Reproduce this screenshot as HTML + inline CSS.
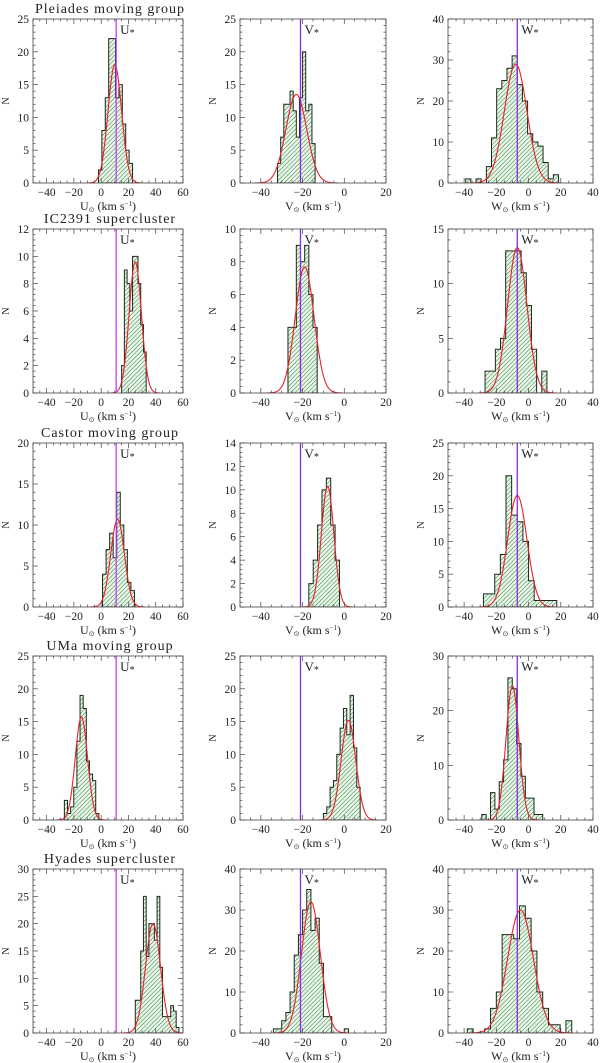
<!DOCTYPE html>
<html><head><meta charset="utf-8">
<style>
html,body{margin:0;padding:0;background:#fff;}
svg{display:block;}
text{font-family:"Liberation Serif",serif;fill:#222;}
</style></head>
<body>
<svg id="fig" width="600" height="1063" viewBox="0 0 600 1063" xmlns="http://www.w3.org/2000/svg">
<defs>
<pattern id="hatch" patternUnits="userSpaceOnUse" width="3" height="3" patternTransform="rotate(45)">
<rect width="3" height="3" fill="#eaf4ea"/>
<line x1="0" y1="0" x2="0" y2="3" stroke="#2a8536" stroke-width="1"/>
</pattern>
</defs>
</svg>
<script>
// ---- data ----
const groupNames = ["Pleiades moving group","IC2391 supercluster","Castor moving group","UMa moving group","Hyades supercluster"];
const components = ["U","V","W"];
const refValues = [11, -21, -7];
const yMaxes = [[25,25,40],[12,10,15],[20,14,25],[25,25,30],[30,40,40]];
const yTickSteps = [[5,5,10],[2,2,5],[5,2,5],[5,5,10],[5,10,10]];
const xTicksU = [-40,-20,0,20,40,60];
const xTicksV = [-40,-20,0,20];
const xTicksW = [-40,-20,0,20,40];
const xRanges = [[-50,60],[-50,20],[-50,40]];

const binStarts = [[-2,-32,-39],[15,-27,-27],[1,-17,-28],[-27,-10,-29],[25,-34,-38]];
const binWidths = [[2.5,1.5,3.2],[2,2,3.2],[2.6,2.1,3.5],[2.3,1.6,2.7],[2,2,3.6]];

const countsPleiadesU = [2,8,13,22,22,13,15,9,5,3];
const countsPleiadesV = [3,7,12,12,14,11,7,13,20,11,12,6];
const countsPleiadesW = [1,0,1,0,4,11,23,25,28,31,24,20,12,10,9,5,1,2];
const countsIC2391U = [2,9,8,6,10,10,8,5,3];
const countsIC2391V = [4,4,9,8,9,6,4];
const countsIC2391W = [2,2,4,5,13,13,13,11,8,4,0,2];
const countsCastorU = [4,7,9,6,14,10,7,3,2];
const countsCastorV = [2,4,7,10,11,7,4];
const countsCastorW = [2,2,5,8,20,14,13,10,4,1,1,1,1];
const countsUMaU = [3,1,2,5,12,19,17,9,7,6,1];
const countsUMaV = [1,2,5,6,10,14,17,13,19,11,5];
const countsUMaW = [1,0,5,2,7,11,26,24,14,8,4,4,1,1];
const countsHyadesU = [6,6,15,25,14,20,20,17,25,12,3,3,3,5,4,1,0];
const countsHyadesV = [1,1,3,5,10,19,24,30,35,25,28,17,4,4,0,0,0,1];
const countsHyadesW = [1,0,0,1,6,10,24,24,23,31,28,20,10,6,2,2,0,3];

// gaussian fit parameters: [mean, sigma, amplitude]
const fitPleiades = [[10,5,18],[-23,5,13.5],[-8,7,29]];
const fitIC2391 = [[25,4.5,9.6],[-19,4.5,7.7],[-7,6,13.3]];
const fitCastor = [[12,5,10.7],[-8,3,10.3],[-7,6,17]];
const fitUMa = [[-14.5,4.5,15.7],[2,3.5,15.2],[-10,4,24.5]];
const fitHyades = [[38,5.5,20],[-16,4.5,32],[-5,8,30]];

const allCounts = [[countsPleiadesU,countsPleiadesV,countsPleiadesW],[countsIC2391U,countsIC2391V,countsIC2391W],[countsCastorU,countsCastorV,countsCastorW],[countsUMaU,countsUMaV,countsUMaW],[countsHyadesU,countsHyadesV,countsHyadesW]];
const allFits = [fitPleiades,fitIC2391,fitCastor,fitUMa,fitHyades];
const allXTicks = [xTicksU,xTicksV,xTicksW];

// ---- layout ----
const colX0 = [33,240,448], colX1 = [183,386,593];
const rowTop = [19,229,443,656,869], panelH = 164;
const svg = document.getElementById('fig');
const NS = "http://www.w3.org/2000/svg";
function mk(tag, attrs, parent){const e=document.createElementNS(NS,tag);for(const k in attrs)e.setAttribute(k,attrs[k]);(parent||svg).appendChild(e);return e;}

for(let r=0;r<5;r++){
  const title = mk('text',{x:(colX0[0]+colX1[0])/2+2,y:rowTop[r]-6,'text-anchor':'middle','font-size':'14','letter-spacing':'1'});
  
  
  title.textContent = groupNames[r];
  for(let c=0;c<3;c++){
    const g = mk('g',{});
    
    
    const x0=colX0[c], x1=colX1[c], y0=rowTop[r], y1=rowTop[r]+panelH;
    const [xmin,xmax]=xRanges[c], ymax=yMaxes[r][c];
    const sx=v=>x0+(v-xmin)/(xmax-xmin)*(x1-x0);
    const sy=v=>y1-v/ymax*(y1-y0);
    const cp='clip'+r+c;
    const clip=mk('clipPath',{id:cp},g); mk('rect',{x:x0,y:y0,width:x1-x0,height:y1-y0},clip);
    const counts=allCounts[r][c], bs=binStarts[r][c], bw=binWidths[r][c];
    let d='M'+sx(bs)+','+sy(0);
    counts.forEach((n,i)=>{const a=sx(bs+i*bw), b=sx(bs+(i+1)*bw); d+=' L'+a+','+sy(n)+' L'+b+','+sy(n);});
    d+=' L'+sx(bs+counts.length*bw)+','+sy(0)+' Z';
    const hist=mk('path',{d:d,fill:'url(#hatch)',stroke:'#1a2a1a','stroke-width':'1','clip-path':'url(#'+cp+')'},g);
    
    
    const [mu,sg,amp]=allFits[r][c];
    let pd='';
    for(let k=0;k<=200;k++){const v=mu-4*sg+k*8*sg/200; pd+=(k?' L':'M')+sx(v).toFixed(2)+','+sy(amp*Math.exp(-0.5*((v-mu)/sg)**2)).toFixed(2);}
    const fit=mk('path',{d:pd,fill:'none',stroke:'#e8202a','stroke-width':'1.1','clip-path':'url(#'+cp+')'},g);
    
    
    const rx=sx(refValues[c]);
    const ref=mk('line',{x1:rx,y1:y0,x2:rx,y2:y1,stroke:c===0?'#c040ff':'#8a2be2','stroke-width':'1.3'},g);
    
    
    const rl=mk('text',{x:rx+4,y:y0+15,'font-size':'13'},g);
    
    
    rl.innerHTML=components[c]+'<tspan font-size="10" dy="2">*</tspan>';
    const fr=mk('rect',{x:x0,y:y0,width:x1-x0,height:y1-y0,fill:'none',stroke:'#444','stroke-width':'0.8'},g);
    
    
    for(let v=xmin;v<=xmax;v+=5){
      const major=v%20===0, L=major?5:2.5, X=sx(v);
      mk('line',{x1:X,y1:y1,x2:X,y2:y1-L,stroke:'#444','stroke-width':'0.7'},g);
      mk('line',{x1:X,y1:y0,x2:X,y2:y0+L,stroke:'#444','stroke-width':'0.7'},g);
    }
    allXTicks[c].forEach(v=>{
      const t=mk('text',{x:sx(v),y:y1+13,'text-anchor':'middle','font-size':'11.5'},g);
      
      
      t.textContent=String(v).replace('-','\u2212');
    });
    const st=yTickSteps[r][c], mn=st/5;
    for(let v=0;v<=ymax+1e-9;v+=mn){
      const major=Math.abs(v/st-Math.round(v/st))<1e-6, L=major?5:2.5, Y=sy(v);
      mk('line',{x1:x0,y1:Y,x2:x0+L,y2:Y,stroke:'#444','stroke-width':'0.7'},g);
      mk('line',{x1:x1,y1:Y,x2:x1-L,y2:Y,stroke:'#444','stroke-width':'0.7'},g);
      if(major){
        const t=mk('text',{x:x0-4,y:Y+4,'text-anchor':'end','font-size':'11.5'},g);
        
        
        t.textContent=Math.round(v);
      }
    }
    const xt=mk('text',{x:(x0+x1)/2,y:y1+27,'text-anchor':'middle','font-size':'12'},g);
    
    
    xt.innerHTML=components[c]+'<tspan font-size="7" dy="2">\u2299</tspan><tspan dy="-2"> (km s</tspan><tspan font-size="7" dy="-4">\u22121</tspan><tspan dy="4">)</tspan>';
    const yt=mk('text',{x:0,y:0,'text-anchor':'middle','font-size':'10',transform:'translate('+(x0-24)+','+((y0+y1)/2)+') rotate(-90)'},g);
    
    
    yt.textContent='N';
  }
}
</script>
</body></html>
